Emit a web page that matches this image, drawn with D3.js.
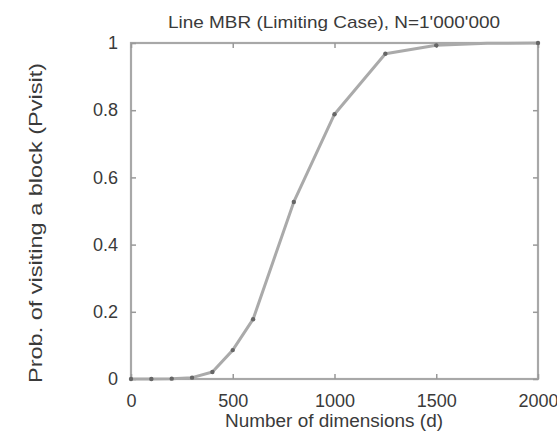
<!DOCTYPE html>
<html>
<head>
<meta charset="utf-8">
<script src="https://cdn.jsdelivr.net/npm/d3@7"></script>
<style>
  body { margin: 0; background: #fff; }
  text { font-family: "Liberation Sans", Arial, sans-serif; fill: #3a3a3a; }
</style>
</head>
<body>
<div id="chart"></div>
<script>
const dims = [0, 100, 200, 300, 400, 500, 600, 800, 1000, 1250, 1500, 1750, 2000];
const pvisit = [0, 0, 0.001, 0.004, 0.021, 0.086, 0.178, 0.527, 0.788, 0.968, 0.993, 0.999, 1];
const xTicks = [0, 500, 1000, 1500, 2000];
const yTicks = [0, 0.2, 0.4, 0.6, 0.8, 1];

const W = 557, H = 434;
const margin = { top: 43, right: 19, bottom: 55, left: 131 };
const width = W - margin.left - margin.right;
const height = H - margin.top - margin.bottom;

const svg = d3.select('#chart').append('svg')
  .attr('width', W)
  .attr('height', H);

const g = svg.append('g')
  .attr('transform', `translate(${margin.left},${margin.top})`);

const x = d3.scaleLinear().domain([0, 2000]).range([0, width]);
const y = d3.scaleLinear().domain([0, 1]).range([height, 0]);

// frame
g.append('rect')
  .attr('width', width)
  .attr('height', height)
  .attr('fill', 'none')
  .attr('stroke', '#a8a8a8')
  .attr('stroke-width', 2.2);

// inner ticks on all four sides
const tickLen = 5;
g.append('g').attr('transform', `translate(0,${height})`)
  .call(d3.axisBottom(x).tickValues(xTicks).tickSize(-tickLen).tickPadding(15).tickFormat(d3.format('d')))
  .call(a => a.select('.domain').remove());
g.append('g')
  .call(d3.axisTop(x).tickValues(xTicks).tickSize(-tickLen).tickFormat(''))
  .call(a => a.select('.domain').remove());
g.append('g')
  .call(d3.axisLeft(y).tickValues(yTicks).tickSize(-tickLen).tickPadding(13).tickFormat(d => d === 0 || d === 1 ? d : d3.format('.1f')(d)))
  .call(a => a.select('.domain').remove());
g.append('g').attr('transform', `translate(${width},0)`)
  .call(d3.axisRight(y).tickValues(yTicks).tickSize(-tickLen).tickFormat(''))
  .call(a => a.select('.domain').remove());

g.selectAll('.tick line').attr('stroke', '#999').attr('stroke-width', 1.5);
g.selectAll('.tick text').style('font-size', '18px').attr('fill', '#3a3a3a');

// series
const data = dims.map((d, i) => ({ d: d, p: pvisit[i] }));

g.append('path')
  .datum(data)
  .attr('fill', 'none')
  .attr('stroke', '#aaa')
  .attr('stroke-width', 3)
  .attr('stroke-linejoin', 'round')
  .attr('d', d3.line().x(d => x(d.d)).y(d => y(d.p)));

g.selectAll('circle.pt')
  .data(data.filter(d => d.d !== 1750))
  .enter().append('circle')
  .attr('class', 'pt')
  .attr('cx', d => x(d.d))
  .attr('cy', d => y(d.p))
  .attr('r', 2.2)
  .attr('fill', '#666');

// labels
svg.append('text')
  .attr('x', 334)
  .attr('y', 28)
  .attr('text-anchor', 'middle')
  .attr('textLength', 332)
  .attr('lengthAdjust', 'spacingAndGlyphs')
  .style('font-size', '17px')
  .text("Line MBR (Limiting Case), N=1'000'000");

svg.append('text')
  .attr('x', 334)
  .attr('y', 427)
  .attr('text-anchor', 'middle')
  .attr('textLength', 218)
  .attr('lengthAdjust', 'spacingAndGlyphs')
  .style('font-size', '18px')
  .text('Number of dimensions (d)');

svg.append('text')
  .attr('transform', 'translate(42,223) rotate(-90)')
  .attr('text-anchor', 'middle')
  .attr('textLength', 320)
  .attr('lengthAdjust', 'spacingAndGlyphs')
  .style('font-size', '18px')
  .text('Prob. of visiting a block (Pvisit)');
</script>
</body>
</html>
